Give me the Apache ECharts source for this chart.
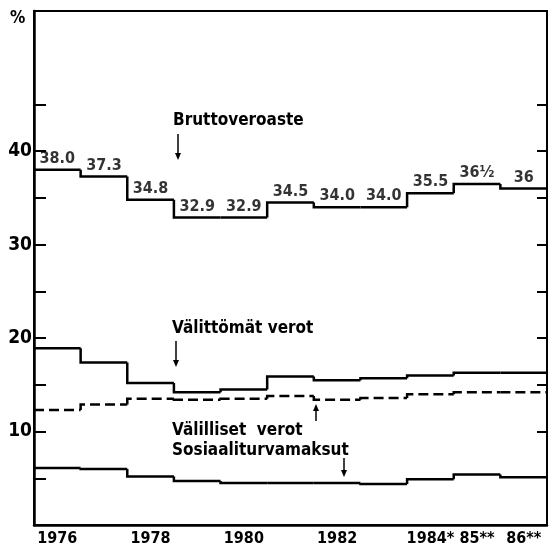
<!DOCTYPE html>
<html>
<head>
<meta charset="utf-8">
<script src="https://cdn.jsdelivr.net/npm/echarts@6/dist/echarts.min.js"></script>
<style>
html, body { margin: 0; padding: 0; background: #fff; }
#chart { width: 552px; height: 549px; }
</style>
</head>
<body>
<div id="chart"></div>
<script>
// data
const years = [1976, 1977, 1978, 1979, 1980, 1981, 1982, 1983, 1984, 1985, 1986];
const yearLabels = ['1976', '', '1978', '', '1980', '', '1982', '', '1984*', '85**', '86**'];
const brutto = [38.0, 37.3, 34.8, 32.9, 32.9, 34.5, 34.0, 34.0, 35.5, 36.5, 36.0];
const bruttoText = ['38.0', '37.3', '34.8', '32.9', '32.9', '34.5', '34.0', '34.0', '35.5', '36½', '36'];
const valittomat = [18.9, 17.4, 15.2, 14.2, 14.5, 15.9, 15.5, 15.7, 16.0, 16.3, 16.3];
const valilliset = [12.3, 12.9, 13.5, 13.4, 13.5, 13.8, 13.4, 13.6, 14.0, 14.2, 14.2];
const sosiaali = [6.1, 6.0, 5.2, 4.7, 4.5, 4.5, 4.5, 4.4, 4.9, 5.4, 5.1];
const yTicks = [10, 20, 30, 40];
const leftTicks = [5, 10, 15, 20, 25, 30, 35, 40, 45];
const rightTicks = [10, 15, 20, 25, 30, 35, 40, 45];

const FONT = '"Liberation Sans Narrow", "DejaVu Sans Condensed", sans-serif';

// custom series: every year draws its riser from the previous year and its flat segment
// (line series drops risers under 2px, so small steps came out sloped)
function stepSeries(vals, dashed) {
    return {
        type: 'custom',
        xAxisIndex: 1,
        silent: true,
        data: vals.map((v, i) => [years[i], v, i > 0 ? vals[i - 1] : v]),
        renderItem: (params, api) => {
            const x = api.value(0), v = api.value(1), prev = api.value(2);
            const pts = [api.coord([x, prev]), api.coord([x, v]), api.coord([x + 1, v])];
            return {
                type: 'polyline',
                shape: { points: pts },
                style: { stroke: '#000', lineWidth: 2.5, fill: null, lineDash: dashed ? [10, 5] : null }
            };
        }
    };
}

function arrow(x, y1, y2) {
    const dir = y2 > y1 ? 1 : -1;
    return [
        { type: 'line', shape: { x1: x, y1: y1, x2: x, y2: y2 - dir * 4 }, style: { stroke: '#000', lineWidth: 1.5 } },
        { type: 'polygon', shape: { points: [[x - 3, y2 - dir * 7], [x + 3, y2 - dir * 7], [x, y2]] }, style: { fill: '#000' } }
    ];
}

function note(text, x, y) {
    return { type: 'text', left: x, top: y, style: { text: text, font: 'bold 17px ' + FONT, fill: '#000' } };
}

const chart = echarts.init(document.getElementById('chart'));
chart.setOption({
    animation: false,
    grid: { left: 34, right: 5, top: 11, bottom: 24, show: true, borderColor: '#000', borderWidth: 2 },
    xAxis: [
        {
            type: 'category',
            data: yearLabels,
            boundaryGap: true,
            axisLine: { lineStyle: { color: '#000', width: 2.5 } },
            axisTick: { inside: true, length: 12, lineStyle: { color: '#000', width: 2 }, interval: 0 },
            axisLabel: { interval: 0, color: '#000', fontFamily: FONT, fontWeight: 'bold', fontSize: 16, margin: 6 },
            splitLine: { show: false }
        },
        { type: 'value', min: 1976, max: 1987, show: false }
    ],
    yAxis: [
        {
            type: 'value', min: 0, max: 55, interval: 5,
            axisLine: { show: true, lineStyle: { color: '#000', width: 2.5 } },
            axisTick: { inside: true, length: 12, customValues: leftTicks, lineStyle: { color: '#000', width: 2 } },
            axisLabel: {
                customValues: yTicks,
                color: '#000', fontFamily: FONT, fontWeight: 'bold', fontSize: 19, margin: 2
            },
            splitLine: { show: false }
        },
        {
            type: 'value', min: 0, max: 55, interval: 5, position: 'right',
            axisLine: { show: true, lineStyle: { color: '#000', width: 2 } },
            axisTick: { inside: true, length: 10, customValues: rightTicks, lineStyle: { color: '#000', width: 2 } },
            axisLabel: { show: false },
            splitLine: { show: false }
        }
    ],
    series: [
        stepSeries(brutto, false),
        stepSeries(valittomat, false),
        stepSeries(valilliset, true),
        stepSeries(sosiaali, false),
        {
            type: 'scatter',
            xAxisIndex: 1,
            symbolSize: 0,
            silent: true,
            data: brutto.map((v, i) => [years[i] + 0.5, v]),
            label: {
                show: true, position: 'top', distance: 3,
                color: '#000', fontFamily: FONT, fontWeight: 'bold', fontSize: 16,
                formatter: p => bruttoText[p.dataIndex]
            }
        }
    ],
    graphic: [
        { type: 'text', left: 10, top: 10, style: { text: '%', font: 'bold 17px ' + FONT, fill: '#000' } },
        note('Bruttoveroaste', 173, 112),
        ...arrow(178, 134, 160),
        note('Välittömät verot', 172, 320),
        ...arrow(176, 341, 367),
        note('Välilliset  verot', 172, 422),
        ...arrow(316, 421, 404),
        note('Sosiaaliturvamaksut', 172, 442),
        ...arrow(344, 458, 477)
    ]
});
</script>
</body>
</html>
